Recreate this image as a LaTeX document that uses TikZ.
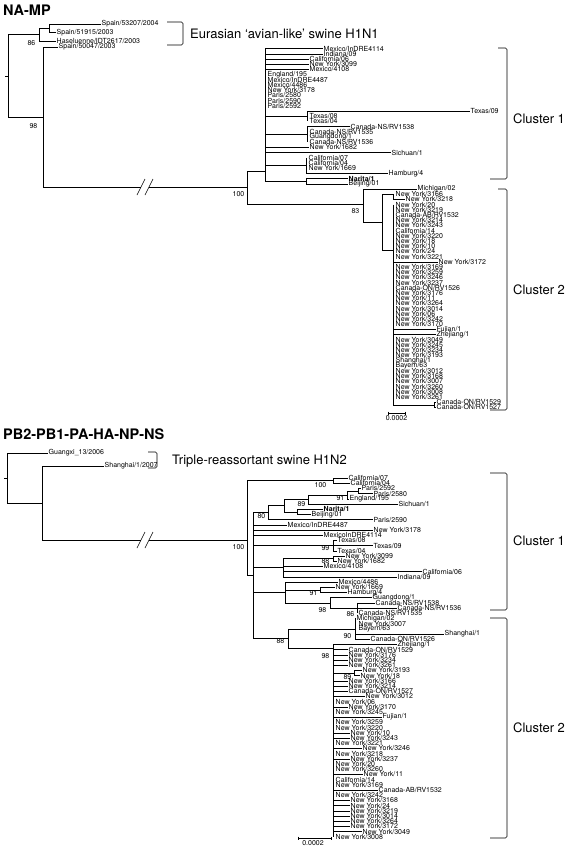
\documentclass[tikz,border=0pt]{standalone}
\usepackage{fontspec}
\setmainfont{TeX Gyre Heros}
\usetikzlibrary{positioning}

\begin{document}
\begin{tikzpicture}[x=1pt, y=-1pt,
    twig/.style={line width=0.6pt},
    leaf/.style={anchor=west, inner sep=0.5pt, font=\fontsize{7}{7}\selectfont},
    boot/.style={anchor=east, inner sep=0.5pt, font=\fontsize{7}{7}\selectfont},
    heading/.style={anchor=west, inner sep=0pt, font=\fontsize{14.5}{15}\selectfont\bfseries},
    clade/.style={anchor=west, inner sep=0pt, font=\fontsize{13}{13}\selectfont},
    brace/.style={line width=0.6pt, rounded corners=1.5pt}]
\useasboundingbox (0,0) rectangle (567,849);

% ===== Top tree: NA-MP =====
\node[heading] (hdA) at (3,10) {NA-MP};

% --- outgroup ---
\draw[twig] (5,75.8) -- (8,75.8);
\draw[twig] (8,34.6) -- (8,117);
\draw[twig] (8,34.6) -- (39,34.6);
\draw[twig] (39,28.3) -- (39,41);
\draw[twig] (39,28.3) -- (49,28.3);
\draw[twig] (49,24) -- (49,32.5);
\node[leaf] (o1) at (101,24) {Spain/53207/2004};
\node[leaf] (o2) at (56,32.5) {Spain/51915/2003};
\node[leaf] (o3) at (56,41) {Haseluenne/IDT2617/2003};
\node[leaf] (o4) at (58,47) {Spain/50047/2003};
\draw[twig] (49,24) -- (o1);
\draw[twig] (49,32.5) -- (o2);
\draw[twig] (39,41) -- (o3);
\draw[twig] (43,47) -- (o4);
\node[boot] (s86) at (36,43) {86};
\draw[twig] (8,117) -- (43,117);
\draw[twig] (43,47) -- (43,187);
\node[boot] (s98) at (38,126) {98};
\draw[brace] (167,22) -- (183,22) -- (183,45) -- (167,45);
\node[clade] (eur) at (190,33.5) {Eurasian ‘avian-like’ swine H1N1};

% --- long branch with break ---
\draw[twig] (43,187) -- (141,187);
\draw[twig] (149,187) -- (247,187);
\draw[twig] (137,195) -- (145,179);
\draw[twig] (145,195) -- (153,179);
\draw[twig] (247,171) -- (247,204);
\node[boot] (s100a) at (245,194) {100};

% --- cluster 1 ---
\draw[twig] (247,171) -- (265,171);
\draw[twig] (265,48.6) -- (265,181.2);
\node[leaf] (a01) at (323,48.6) {Mexico/InDRE4114};
\node[leaf] (a02) at (323,53.8) {Indiana/09};
\node[leaf] (a03) at (309,59) {California/06};
\node[leaf] (a04) at (309,64.2) {New York/3099};
\node[leaf] (a05) at (309,69.4) {Mexico/4108};
\node[leaf] (a06) at (267,74.6) {England/195};
\node[leaf] (a07) at (267,79.8) {Mexico/InDRE4487};
\node[leaf] (a08) at (267,85) {Mexico/4486};
\node[leaf] (a09) at (267,90.2) {New York/3178};
\node[leaf] (a10) at (267,95.4) {Paris/2580};
\node[leaf] (a11) at (267,100.6) {Paris/2590};
\node[leaf] (a12) at (267,105.8) {Paris/2592};
\draw[twig] (265,48.6) -- (a01);
\draw[twig] (265,53.8) -- (a02);
\draw[twig] (265,59) -- (a03);
\draw[twig] (265,64.2) -- (a04);
\draw[twig] (265,69.4) -- (a05);
\draw[twig] (265,116.2) -- (307,116.2);
\draw[twig] (307,111) -- (307,121.4);
\node[leaf] (a13) at (470,111) {Texas/09};
\node[leaf] (a14) at (309,116.2) {Texas/08};
\node[leaf] (a15) at (309,121.4) {Texas/04};
\draw[twig] (307,111) -- (a13);
\draw[twig] (265,134.4) -- (307,134.4);
\draw[twig] (307,126.6) -- (307,142.2);
\node[leaf] (a16) at (350,126.6) {Canada-NS/RV1538};
\node[leaf] (a17) at (309,131.8) {Canada-NS/RV1535};
\node[leaf] (a18) at (309,137) {Guangdong/1};
\node[leaf] (a19) at (309,142.2) {Canada-NS/RV1536};
\draw[twig] (307,126.6) -- (a16);
\node[leaf] (a20) at (309,147.4) {New York/1682};
\node[leaf] (a21) at (391,152.6) {Sichuan/1};
\draw[twig] (265,147.4) -- (a20);
\draw[twig] (265,152.6) -- (a21);
\draw[twig] (265,165.6) -- (306,165.6);
\draw[twig] (306,157.8) -- (306,173.4);
\node[leaf] (a22) at (308,157.8) {California/07};
\node[leaf] (a23) at (308,163) {California/04};
\node[leaf] (a24) at (308,168.2) {New York/1669};
\node[leaf] (a25) at (388,173.4) {Hamburg/4};
\draw[twig] (306,173.4) -- (a25);
\draw[twig] (265,181.2) -- (306,181.2);
\draw[twig] (306,178.6) -- (306,183.8);
\node[leaf] (a26) at (348,178.6) {\bfseries Narita/1};
\node[leaf] (a27) at (348,183.8) {Beijing/01};
\draw[twig] (306,178.6) -- (a26);
\draw[twig] (306,183.8) -- (a27);

% --- cluster 2 ---
\draw[twig] (247,204) -- (363,204);
\draw[twig] (363,189) -- (363,222);
\node[boot] (s83) at (360,211) {83};
\node[leaf] (a28) at (417,189) {Michigan/02};
\draw[twig] (363,189) -- (a28);
\draw[twig] (363,222) -- (382,222);
\draw[twig] (382,194.2) -- (382,250);
\draw[twig] (382,194.2) -- (393,194.2);
\draw[twig] (393,194.2) -- (393,199.4);
\node[leaf] (a29) at (395,194.2) {New York/3166};
\node[leaf] (a30) at (405,199.4) {New York/3218};
\draw[twig] (393,199.4) -- (a30);
\draw[twig] (382,250) -- (393,250);
\draw[twig] (393,204.6) -- (393,404.8);
\node[leaf] (a31) at (395,204.6) {New York/20};
\node[leaf] (a32) at (395,209.8) {New York/3219};
\node[leaf] (a33) at (395,215) {Canada-AB/RV1532};
\node[leaf] (a34) at (395,220.2) {New York/3214};
\node[leaf] (a35) at (395,225.4) {New York/3243};
\node[leaf] (a36) at (395,230.6) {California/14};
\node[leaf] (a37) at (395,235.8) {New York/3220};
\node[leaf] (a38) at (395,241) {New York/18};
\node[leaf] (a39) at (395,246.2) {New York/10};
\node[leaf] (a40) at (395,251.4) {New York/24};
\node[leaf] (a41) at (395,256.6) {New York/3221};
\node[leaf] (a42) at (438,261.8) {New York/3172};
\draw[twig] (393,261.8) -- (a42);
\node[leaf] (a43) at (395,267) {New York/3169};
\node[leaf] (a44) at (395,272.2) {New York/3259};
\node[leaf] (a45) at (395,277.4) {New York/3246};
\node[leaf] (a46) at (395,282.6) {New York/3237};
\node[leaf] (a47) at (395,287.8) {Canada-ON/RV1526};
\node[leaf] (a48) at (395,293) {New York/3176};
\node[leaf] (a49) at (395,298.2) {New York/11};
\node[leaf] (a50) at (395,303.4) {New York/3264};
\node[leaf] (a51) at (395,308.6) {New York/3014};
\node[leaf] (a52) at (395,313.8) {New York/06};
\node[leaf] (a53) at (395,319) {New York/3242};
\node[leaf] (a54) at (395,324.2) {New York/3170};
\node[leaf] (a55) at (436,329.4) {Fujian/1};
\node[leaf] (a56) at (436,334.6) {Zhejiang/1};
\draw[twig] (393,329.4) -- (a55);
\draw[twig] (393,334.6) -- (a56);
\node[leaf] (a57) at (395,339.8) {New York/3049};
\node[leaf] (a58) at (395,345) {New York/3245};
\node[leaf] (a59) at (395,350.2) {New York/3234};
\node[leaf] (a60) at (395,355.4) {New York/3193};
\node[leaf] (a61) at (395,360.6) {Shanghai/1};
\node[leaf] (a62) at (395,365.8) {Bayern/63};
\node[leaf] (a63) at (395,371) {New York/3012};
\node[leaf] (a64) at (395,376.2) {New York/3168};
\node[leaf] (a65) at (395,381.4) {New York/3007};
\node[leaf] (a66) at (395,386.6) {New York/3260};
\node[leaf] (a67) at (395,391.8) {New York/3008};
\node[leaf] (a68) at (395,397) {New York/3261};
\draw[twig] (393,404.8) -- (434,404.8);
\draw[twig] (434,402.2) -- (434,407.4);
\node[leaf] (a69) at (436,402.2) {Canada-ON/RV1529};
\node[leaf] (a70) at (436,407.4) {Canada-ON/RV1527};
\draw[twig] (434,402.2) -- (a69);
\draw[twig] (434,407.4) -- (a70);

% --- brackets and scale ---
\draw[brace] (498,48) -- (507,48) -- (507,179) -- (490,179);
\node[clade] (c1a) at (513,119) {Cluster 1};
\draw[brace] (498,189) -- (507,189) -- (507,410) -- (490,410);
\node[clade] (c2a) at (513,290) {Cluster 2};
\draw[twig] (388,413) -- (405,413);
\draw[twig] (388,411.5) -- (388,414.5);
\draw[twig] (405,411.5) -- (405,414.5);
\node[leaf, anchor=north] (sc1) at (396.5,415) {0.0002};

% ===== Bottom tree: PB2-PB1-PA-HA-NP-NS =====
\node[heading] (hdB) at (3,434) {PB2-PB1-PA-HA-NP-NS};

% --- outgroup ---
\draw[twig] (4,478) -- (7,478);
\draw[twig] (7,453) -- (7,503);
\node[leaf] (g1) at (48,453) {Guangxi\_13/2006};
\draw[twig] (7,453) -- (g1);
\draw[twig] (7,503) -- (42,503);
\draw[twig] (42,466) -- (42,540);
\node[leaf] (g2) at (104,466) {Shanghai/1/2007};
\draw[twig] (42,466) -- (g2);
\draw[brace] (148,452) -- (157,452) -- (157,468) -- (148,468);
\node[clade] (tri) at (172,461) {Triple-reassortant swine H1N2};

% --- long branch with break ---
\draw[twig] (42,540) -- (141,540);
\draw[twig] (149,540) -- (247,540);
\draw[twig] (137,548) -- (145,532);
\draw[twig] (145,548) -- (153,532);
\draw[twig] (247,480.6) -- (247,575.5);
\node[boot] (s100b) at (245,547) {100};

% --- cluster 1 ---
\draw[twig] (247,480.6) -- (333,480.6);
\draw[twig] (333,478) -- (333,483.2);
\node[boot] (s100c) at (327,485) {100};
\node[leaf] (b01) at (348,478) {California/07};
\node[leaf] (b02) at (350,483.2) {California/04};
\draw[twig] (333,478) -- (b01);
\draw[twig] (333,483.2) -- (b02);
\draw[twig] (347,491) -- (358,491);
\draw[twig] (358,488.4) -- (358,493.6);
\node[leaf] (b03) at (361,488.4) {Paris/2592};
\node[leaf] (b04) at (373,493.6) {Paris/2580};
\draw[twig] (358,488.4) -- (b03);
\draw[twig] (358,493.6) -- (b04);
\draw[twig] (347,491) -- (347,498.8);
\node[boot] (s91) at (345,498) {91};
\node[leaf] (b05) at (349,498.8) {England/195};
\draw[twig] (347,498.8) -- (b05);
\draw[twig] (308,494.9) -- (347,494.9);
\draw[twig] (308,494.9) -- (308,504);
\node[boot] (s89) at (306,504) {89};
\node[leaf] (b06) at (398,504) {Sichuan/1};
\draw[twig] (308,504) -- (b06);
\draw[twig] (284,499.5) -- (308,499.5);
\draw[twig] (284,499.5) -- (284,511.8);
\draw[twig] (284,511.8) -- (297,511.8);
\draw[twig] (297,509.2) -- (297,514.4);
\node[leaf] (b07) at (323,509.2) {\bfseries Narita/1};
\node[leaf] (b08) at (311,514.4) {Beijing/01};
\draw[twig] (297,509.2) -- (b07);
\draw[twig] (297,514.4) -- (b08);
\draw[twig] (268,505.6) -- (284,505.6);
\draw[twig] (268,505.6) -- (268,519.6);
\node[boot] (s80) at (266,516) {80};
\node[leaf] (b09) at (373,519.6) {Paris/2590};
\draw[twig] (268,519.6) -- (b09);
\draw[twig] (253,512.6) -- (268,512.6);
\draw[twig] (253,512.6) -- (253,638.4);
\draw[twig] (247,575.5) -- (253,575.5);
\node[leaf] (b10) at (287,524.8) {Mexico/InDRE4487};
\node[leaf] (b11) at (373,530) {New York/3178};
\node[leaf] (b12) at (323,535.2) {MexicoInDRE4114};
\draw[twig] (253,524.8) -- (b10);
\draw[twig] (253,530) -- (b11);
\draw[twig] (253,535.2) -- (b12);
\draw[twig] (253,545.6) -- (333,545.6);
\draw[twig] (333,540.4) -- (333,550.8);
\node[boot] (s99) at (330,548.5) {99};
\node[leaf] (b13) at (337,540.4) {Texas/08};
\node[leaf] (b14) at (373,545.6) {Texas/09};
\node[leaf] (b15) at (337,550.8) {Texas/04};
\draw[twig] (333,540.4) -- (b13);
\draw[twig] (333,545.6) -- (b14);
\draw[twig] (333,550.8) -- (b15);
\draw[twig] (253,567.7) -- (283,567.7);
\draw[twig] (283,558.6) -- (283,576.8);
\draw[twig] (283,558.6) -- (333,558.6);
\draw[twig] (333,556) -- (333,561.2);
\node[boot] (s88a) at (330,561) {88};
\node[leaf] (b16) at (345,556) {New York/3099};
\node[leaf] (b17) at (337,561.2) {New York/1682};
\draw[twig] (333,556) -- (b16);
\draw[twig] (333,561.2) -- (b17);
\node[leaf] (b18) at (323,566.4) {Mexico/4108};
\node[leaf] (b19) at (422,571.6) {California/06};
\node[leaf] (b20) at (397,576.8) {Indiana/09};
\draw[twig] (283,566.4) -- (b18);
\draw[twig] (283,571.6) -- (b19);
\draw[twig] (283,576.8) -- (b20);
\draw[twig] (253,592.4) -- (285,592.4);
\draw[twig] (285,582) -- (285,602.8);
\node[leaf] (b21) at (338,582) {Mexico/4486};
\draw[twig] (285,582) -- (b21);
\draw[twig] (285,589.8) -- (320,589.8);
\draw[twig] (320,587.2) -- (320,592.4);
\node[boot] (s91b) at (318,593.5) {91};
\node[leaf] (b22) at (335,587.2) {New York/1669};
\node[leaf] (b23) at (347,592.4) {Hamburg/4};
\draw[twig] (320,587.2) -- (b22);
\draw[twig] (320,592.4) -- (b23);
\draw[twig] (285,602.8) -- (330,602.8);
\draw[twig] (330,597.6) -- (330,608);
\node[boot] (s98c) at (327,610) {98};
\node[leaf] (b24) at (372,597.6) {Guangdong/1};
\draw[twig] (330,597.6) -- (b24);
\draw[twig] (330,608) -- (357,608);
\draw[twig] (357,602.8) -- (357,613.2);
\node[boot] (s86b) at (355,614) {86};
\node[leaf] (b25) at (375,602.8) {Canada-NS/RV1538};
\node[leaf] (b26) at (397,608) {Canada-NS/RV1536};
\node[leaf] (b27) at (358,613.2) {Canada-NS/RV1535};
\draw[twig] (357,602.8) -- (b25);
\draw[twig] (357,608) -- (b26);

% --- cluster 2 ---
\draw[twig] (253,638.4) -- (288,638.4);
\draw[twig] (288,628.8) -- (288,648);
\node[boot] (s88) at (285,641) {88};
\draw[twig] (288,628.8) -- (355,628.8);
\draw[twig] (355,618.4) -- (355,639.2);
\node[boot] (s90) at (352,636) {90};
\node[leaf] (b28) at (356,618.4) {Michigan/02};
\node[leaf] (b29) at (358,623.6) {New York/3007};
\node[leaf] (b30) at (358,628.8) {Bayern/63};
\node[leaf] (b31) at (444,634) {Shanghai/1};
\node[leaf] (b32) at (370,639.2) {Canada-ON/RV1526};
\draw[twig] (355,634) -- (b31);
\draw[twig] (355,639.2) -- (b32);
\draw[twig] (288,648) -- (333,648);
\draw[twig] (333,644.4) -- (333,836.8);
\node[boot] (s98d) at (330,656) {98};
\node[leaf] (b33) at (397,644.4) {Zhejiang/1};
\node[leaf] (b34) at (348,649.6) {Canada-ON/RV1529};
\node[leaf] (b35) at (348,654.8) {New York/3176};
\node[leaf] (b36) at (348,660) {New York/3234};
\node[leaf] (b37) at (348,665.2) {New York/3261};
\draw[twig] (333,644.4) -- (b33);
\draw[twig] (333,649.6) -- (b34);
\draw[twig] (333,654.8) -- (b35);
\draw[twig] (333,660) -- (b36);
\draw[twig] (333,665.2) -- (b37);
\draw[twig] (333,673) -- (354,673);
\draw[twig] (354,670.4) -- (354,675.6);
\node[boot] (s89b) at (352,677.5) {89};
\node[leaf] (b38) at (362,670.4) {New York/3193};
\node[leaf] (b39) at (360,675.6) {New York/18};
\draw[twig] (354,670.4) -- (b38);
\draw[twig] (354,675.6) -- (b39);
\node[leaf] (b40) at (348,680.8) {New York/3166};
\node[leaf] (b41) at (348,686) {New York/3214};
\node[leaf] (b42) at (348,691.2) {Canada-ON/RV1527};
\node[leaf] (b43) at (365,696.4) {New York/3012};
\node[leaf] (b44) at (335,701.6) {New York/06};
\node[leaf] (b45) at (348,706.8) {New York/3170};
\node[leaf] (b46) at (335,712) {New York/3245};
\node[leaf] (b47) at (382,717.2) {Fujian/1};
\node[leaf] (b48) at (335,722.4) {New York/3259};
\node[leaf] (b49) at (335,727.6) {New York/3220};
\node[leaf] (b50) at (350,732.8) {New York/10};
\node[leaf] (b51) at (350,738) {New York/3243};
\node[leaf] (b52) at (335,743.2) {New York/3221};
\node[leaf] (b53) at (362,748.4) {New York/3246};
\node[leaf] (b54) at (335,753.6) {New York/3218};
\node[leaf] (b55) at (350,758.8) {New York/3237};
\node[leaf] (b56) at (335,764) {New York/20};
\node[leaf] (b57) at (335,769.2) {New York/3260};
\node[leaf] (b58) at (363,774.4) {New York/11};
\node[leaf] (b59) at (335,779.6) {California/14};
\node[leaf] (b60) at (335,784.8) {New York/3169};
\node[leaf] (b61) at (378,790) {Canada-AB/RV1532};
\node[leaf] (b62) at (335,795.2) {New York/3242};
\node[leaf] (b63) at (350,800.4) {New York/3168};
\node[leaf] (b64) at (350,805.6) {New York/24};
\node[leaf] (b65) at (350,810.8) {New York/3219};
\node[leaf] (b66) at (350,816) {New York/3014};
\node[leaf] (b67) at (350,821.2) {New York/3264};
\node[leaf] (b68) at (350,826.4) {New York/3172};
\node[leaf] (b69) at (362,831.6) {New York/3049};
\node[leaf] (b70) at (335,836.8) {New York/3008};
\draw[twig] (333,680.8) -- (b40);
\draw[twig] (333,686) -- (b41);
\draw[twig] (333,691.2) -- (b42);
\draw[twig] (333,696.4) -- (b43);
\draw[twig] (333,706.8) -- (b45);
\draw[twig] (333,717.2) -- (b47);
\draw[twig] (333,732.8) -- (b50);
\draw[twig] (333,738) -- (b51);
\draw[twig] (333,748.4) -- (b53);
\draw[twig] (333,758.8) -- (b55);
\draw[twig] (333,774.4) -- (b58);
\draw[twig] (333,790) -- (b61);
\draw[twig] (333,800.4) -- (b63);
\draw[twig] (333,805.6) -- (b64);
\draw[twig] (333,810.8) -- (b65);
\draw[twig] (333,816) -- (b66);
\draw[twig] (333,821.2) -- (b67);
\draw[twig] (333,826.4) -- (b68);
\draw[twig] (333,831.6) -- (b69);

% --- brackets and scale ---
\draw[brace] (490,473) -- (507,473) -- (507,610) -- (490,610);
\node[clade] (c1b) at (513,541) {Cluster 1};
\draw[brace] (490,618) -- (507,618) -- (507,838) -- (490,838);
\node[clade] (c2b) at (513,728) {Cluster 2};
\draw[twig] (298,838) -- (331,838);
\draw[twig] (298,836.5) -- (298,839.5);
\draw[twig] (331,836.5) -- (331,839.5);
\node[leaf, anchor=north] (sc2) at (313,839.5) {0.0002};
\end{tikzpicture}
\end{document}
